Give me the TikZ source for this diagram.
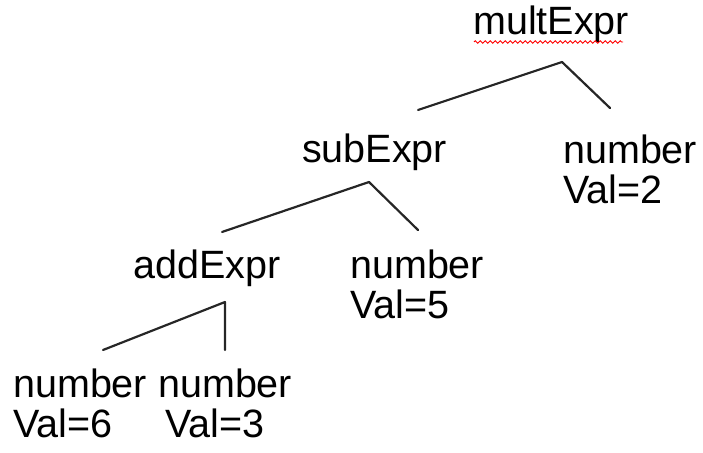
\documentclass[tikz,border=0pt]{standalone}
\usepackage{fontspec}
\setmainfont{Liberation Sans}
\usetikzlibrary{decorations.pathmorphing}
\begin{document}
\begin{tikzpicture}[x=1pt,y=-1pt,
  lbl/.style={anchor=base west,inner sep=0pt,align=left,
    font=\fontsize{39.5}{40}\selectfont,text=black},
  edge/.style={line width=2.2pt,draw=black!85,line cap=round,line join=round},
  squiggle/.style={draw=red,line width=0.9pt,decorate,
    decoration={zigzag,segment length=5pt,amplitude=1.3pt}}]
\useasboundingbox (0,0) rectangle (703,452);
% nodes (multi-line nodes are anchored at the baseline of their last line)
\node[lbl] (mult) at (473,35) {multExpr};
\node[lbl] (sub) at (302,162) {subExpr};
\node[lbl] (add) at (133,278) {addExpr};
\node[lbl] (n2) at (563,203) {number\\Val=2};
\node[lbl] (n5) at (350,318) {number\\Val=5};
\node[lbl] (n6) at (13,437) {number\\Val=6};
\node[lbl] (n3) at (158,437) {number\\\hspace{7pt}Val=3};
% spell-check underline
\coordinate (sqL) at (474,42);
\coordinate (sqR) at (623,42);
\draw[squiggle] (sqL) -- (sqR);
% connector coordinates
\coordinate (mpk) at (562,62);
\coordinate (ml) at (418,110);
\coordinate (mr) at (610,108);
\coordinate (spk) at (369,182);
\coordinate (sl) at (222,232);
\coordinate (sr) at (418,230);
\coordinate (apk) at (225,302);
\coordinate (al) at (103,350);
\coordinate (ar) at (225,350);
% connectors
\draw[edge] (ml) -- (mpk) -- (mr);
\draw[edge] (sl) -- (spk) -- (sr);
\draw[edge] (al) -- (apk) -- (ar);
\end{tikzpicture}
\end{document}
